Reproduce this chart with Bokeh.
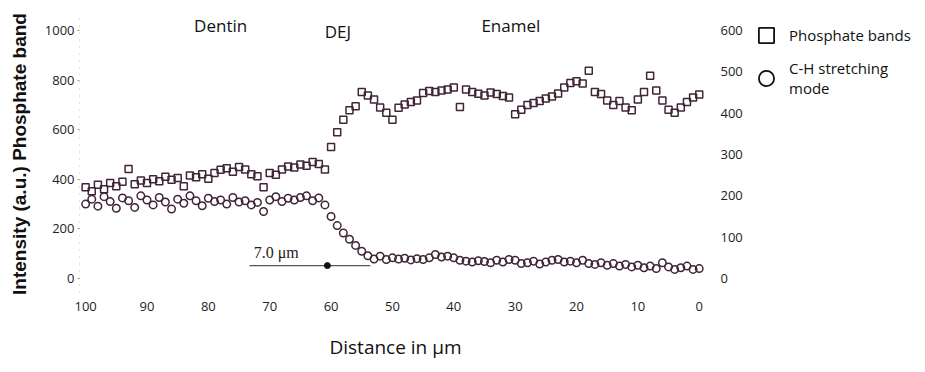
from bokeh.plotting import figure
from bokeh.layouts import row
from bokeh.models import (Range1d, LinearAxis, Legend, LegendItem, Label,
                          FixedTicker, ColumnDataSource)
from bokeh.embed import file_html
from bokeh.resources import INLINE

# Raman line scan across the dentin-enamel junction (1 µm steps, 100 -> 0)
distance = list(range(100, -1, -1))

# Phosphate band intensity (left axis, a.u.)
phosphate = [
    368, 352, 378, 360, 385, 372, 390, 442, 380, 395,   # 100-91
    385, 400, 392, 410, 398, 405, 372, 415, 408, 420,   # 90-81
    402, 425, 438, 445, 430, 450, 440, 420, 412, 368,   # 80-71
    425, 418, 440, 452, 448, 460, 455, 470, 462, 440,   # 70-61
    530, 590, 640, 678, 695, 752, 738, 722, 690, 668,   # 60-51
    640, 688, 702, 712, 718, 748, 756, 752, 758, 762,   # 50-41
    770, 692, 762, 752, 745, 738, 750, 744, 736, 730,   # 40-31
    662, 680, 700, 708, 716, 726, 734, 746, 770, 788,   # 30-21
    795, 786, 838, 752, 744, 718, 700, 716, 690, 678,   # 20-11
    722, 752, 818, 758, 718, 680, 668, 690, 712, 730,   # 10-1
    742,                                                # 0
]

# C-H stretching mode intensity (right axis, a.u.)
ch_stretch = [
    180, 192, 175, 198, 186, 170, 195, 188, 172, 200,   # 100-91
    190, 178, 196, 185, 168, 192, 182, 200, 188, 176,   # 90-81
    194, 186, 190, 180, 196, 185, 188, 178, 184, 162,   # 80-71
    190, 198, 186, 194, 190, 196, 200, 188, 195, 178,   # 70-61
    150, 128, 110, 95, 80, 66, 55, 47, 54, 46,          # 60-51
    50, 47, 49, 45, 48, 46, 50, 58, 52, 54,             # 50-41
    50, 44, 42, 40, 43, 41, 38, 44, 40, 46,             # 40-31
    44, 36, 38, 42, 35, 40, 44, 46, 40, 42,             # 30-21
    38, 44, 36, 34, 38, 32, 36, 30, 34, 28,             # 20-11
    32, 26, 30, 24, 38, 28, 22, 26, 30, 22,             # 10-1
    24,                                                 # 0
]

x_ticks = [100, 90, 80, 70, 60, 50, 40, 30, 20, 10, 0]
left_ticks = [0, 200, 400, 600, 800, 1000]
right_ticks = [0, 100, 200, 300, 400, 500, 600]

region_names = ["Dentin", "DEJ", "Enamel"]
region_x = [78.0, 58.9, 30.7]
region_y = [1020, 996, 1020]

# width marker of the junction zone
span_start = 73.3
span_end = 53.6
span_width = 7.0
span_level = 52

INK = "#3f2535"
FONT = "Open Sans"
NAN = float("nan")

p = figure(width=745, height=372, output_backend="svg", toolbar_location=None,
           x_range=Range1d(101, -2), y_range=Range1d(-56.5, 1060.5),
           min_border_left=79, min_border_right=30, min_border_top=15,
           min_border_bottom=80)
p.extra_y_ranges = {"right": Range1d(-33.9, 636.3)}
p.outline_line_color = None
p.grid.visible = False
p.background_fill_color = "white"
p.border_fill_color = "white"

src = ColumnDataSource(dict(d=distance, ph=phosphate, ch=ch_stretch))
p.scatter("d", "ph", source=src, marker="square", size=7,
          line_color=INK, line_width=1.5, fill_alpha=0)
p.scatter("d", "ch", source=src, marker="circle", size=7.5,
          line_color=INK, line_width=1.5, fill_alpha=0, y_range_name="right")

# axes
xa = p.xaxis[0]
xa.ticker = FixedTicker(ticks=x_ticks)
xa.axis_line_color = None
xa.major_tick_line_color = None
xa.minor_tick_line_color = None
xa.major_label_standoff = 3
xa.major_label_text_font = FONT
xa.major_label_text_font_size = "13px"
xa.major_label_text_color = "#222222"
xa.axis_label = "Distance in μm"
xa.axis_label_text_font = FONT
xa.axis_label_text_font_style = "normal"
xa.axis_label_text_font_size = "19px"
xa.axis_label_text_color = "#111111"
xa.axis_label_standoff = 20

ya = p.yaxis[0]
ya.ticker = FixedTicker(ticks=left_ticks)
ya.axis_line_color = "#c8c8c8"
ya.axis_line_dash = "1 6"
ya.major_tick_line_color = "#9a9a9a"
ya.major_tick_out = 2
ya.major_tick_in = 0
ya.minor_tick_line_color = None
ya.major_label_standoff = 3
ya.major_label_text_font = FONT
ya.major_label_text_font_size = "13px"
ya.major_label_text_color = "#222222"
ya.axis_label = "Intensity (a.u.) Phosphate band"
ya.axis_label_text_font = "Liberation Sans"
ya.axis_label_text_font_style = "bold"
ya.axis_label_text_font_size = "19px"
ya.axis_label_text_color = "#111111"
ya.axis_label_standoff = 12

ra = LinearAxis(y_range_name="right", ticker=FixedTicker(ticks=right_ticks))
ra.axis_line_color = None
ra.major_tick_line_color = None
ra.minor_tick_line_color = None
ra.major_label_standoff = 3
ra.major_label_text_font = FONT
ra.major_label_text_font_size = "13px"
ra.major_label_text_color = "#222222"
p.add_layout(ra, "right")

# region names along the top
for name, rx, ry in zip(region_names, region_x, region_y):
    p.add_layout(Label(x=rx, y=ry, text=name, text_align="center",
                       text_baseline="middle", text_font=FONT,
                       text_font_size="17px", text_color="#111111"))

# junction width marker
p.segment(x0=[span_start], y0=[span_level], x1=[span_end], y1=[span_level],
          line_color="#555555", line_width=1.2)
p.scatter([span_end + span_width], [span_level], marker="circle", size=6,
          color="#111111")
p.add_layout(Label(x=72.6, y=106, text="7.0 μm", text_align="left",
                   text_baseline="middle", text_font="Liberation Serif",
                   text_font_size="16px", text_color="#222222"))

# legend panel to the right of the plot
q = figure(width=180, height=372, output_backend="svg", toolbar_location=None,
           x_range=Range1d(0, 1), y_range=Range1d(0, 1),
           x_axis_type=None, y_axis_type=None,
           min_border_left=2, min_border_top=15, min_border_right=0,
           min_border_bottom=0)
q.outline_line_color = None
q.grid.visible = False
lg_sq = q.scatter([NAN], [NAN], marker="square", line_color="#111111",
                  line_width=1.8, fill_alpha=0)
lg_ci = q.scatter([NAN], [NAN], marker="circle", line_color="#111111",
                  line_width=1.8, fill_alpha=0)
legend = Legend(items=[LegendItem(label="Phosphate bands", renderers=[lg_sq]),
                       LegendItem(label="C-H stretching\nmode", renderers=[lg_ci])],
                location="top_left", glyph_width=38, glyph_height=40,
                spacing=3, padding=0, margin=0, label_standoff=4,
                label_text_font=FONT, label_text_font_size="15px",
                label_text_color="#111111", border_line_color=None,
                background_fill_alpha=0)
q.add_layout(legend)

layout = row(p, q)
open("out.html", "w").write(file_html(layout, INLINE))
